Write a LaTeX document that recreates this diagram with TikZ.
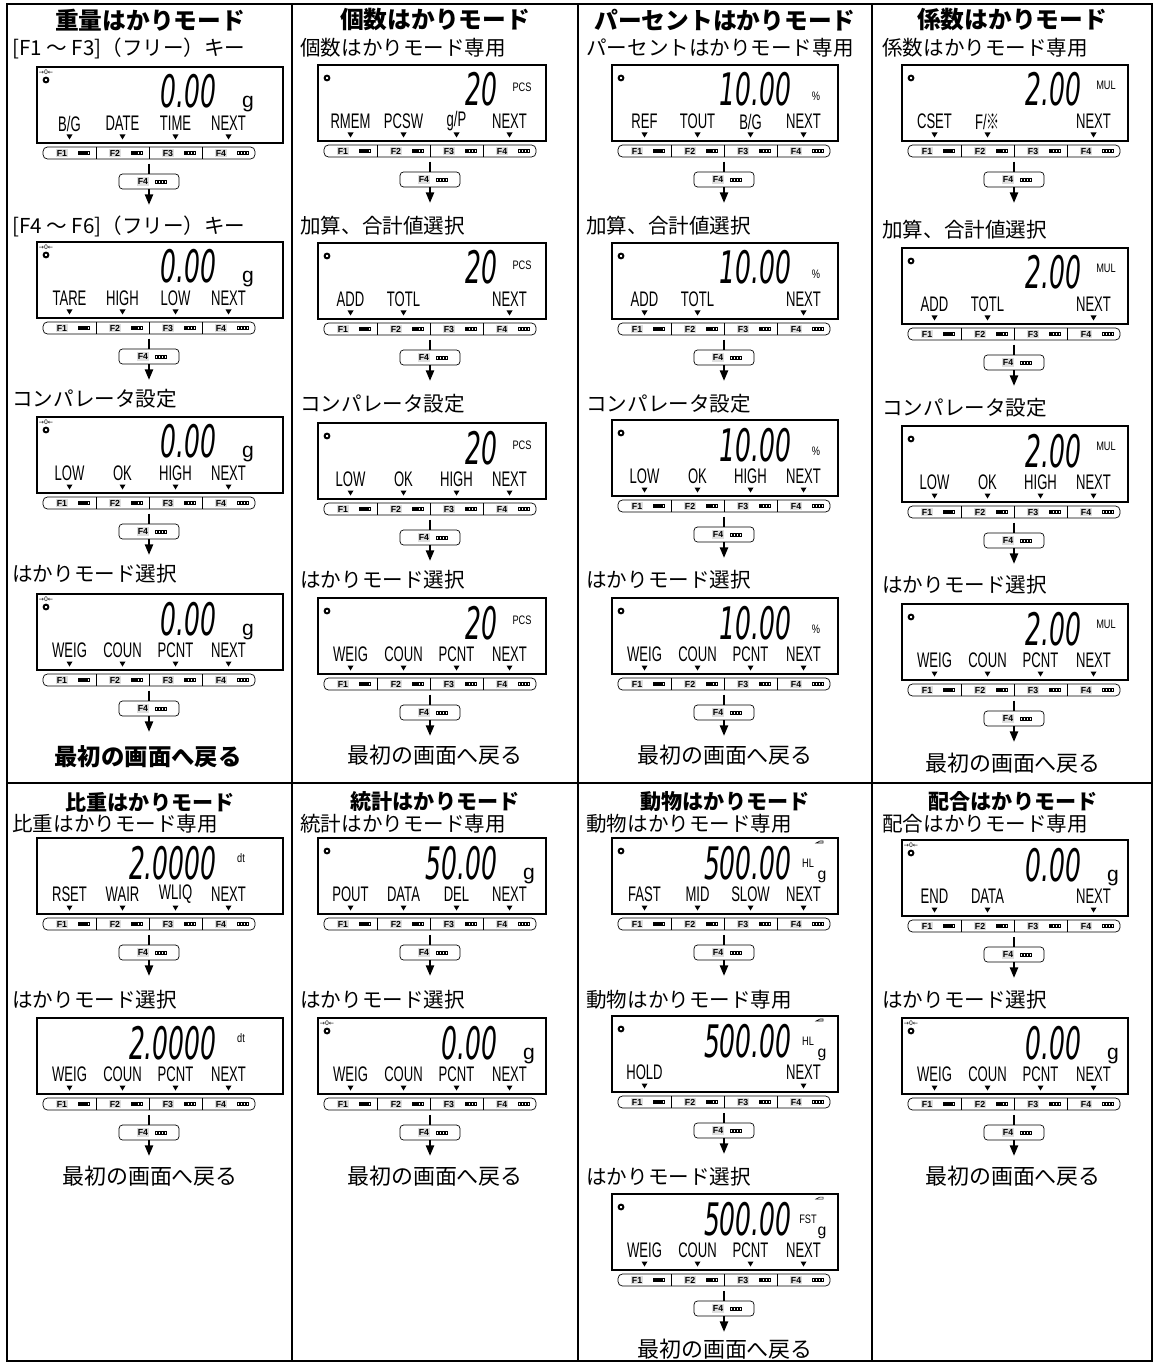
\documentclass[tikz,border=0pt]{standalone}
\usepackage{fontspec}
\setmainfont{Noto Sans CJK JP}
\newfontfamily\lcdfont{Liberation Sans}
\newfontfamily\symfont{DejaVu Sans}
\newfontfamily\cjkfont{Noto Sans CJK JP}
\usetikzlibrary{arrows.meta}

\tikzset{
  grid/.style={line width=0.8pt},
  ttl/.style={font=\fontsize{13.5}{15}\selectfont\bfseries},
  ttlb/.style={font=\fontsize{12}{14}\selectfont\bfseries},
  sub/.style={anchor=west, inner sep=0pt, font=\fontsize{11.7}{13}\selectfont},
  back/.style={font=\fontsize{12.5}{14}\selectfont},
  backbf/.style={font=\fontsize{13.3}{15}\selectfont\bfseries},
  lcdbox/.style={line width=1pt},
  seg/.style={font=\symfont\fontsize{25.5}{26}\selectfont\itshape, xscale=0.56, inner sep=0pt, text depth=0pt, anchor=base east},
  lbl/.style={font=\lcdfont\fontsize{12}{12}\selectfont, xscale=0.62, inner sep=0pt},
  unitbig/.style={font=\lcdfont\fontsize{12}{12}\selectfont, inner sep=0pt, anchor=base},
  unitsm/.style={font=\lcdfont\fontsize{7}{7}\selectfont, xscale=0.75, inner sep=0pt},
  zero/.style={font=\symfont\fontsize{3.5}{3.5}\selectfont, inner sep=0pt},
  keybar/.style={draw, rounded corners=2.5pt, minimum width=4.24cm, minimum height=0.24cm, inner sep=0pt, line width=0.4pt},
  keylab/.style={fill=gray!25, inner sep=0.7pt, font=\lcdfont\fontsize{5}{5}\selectfont\bfseries},
  fkey/.style={draw, rounded corners=2pt, minimum width=1.2cm, minimum height=0.3cm, inner sep=0pt, line width=0.4pt},
  flow/.style={line width=1.3pt},
  >={Triangle[length=6pt,width=4.5pt]},
}

% 表示部+キー+F4+矢印
% #1 名前, #2 左, #3 上, #4 幅, #5 数値, #6 単位, #7 キー表示, #8 0:なし 1:o 2:ゼロ+o
\newcommand{\lcd}[8]{%
  \draw[lcdbox] (#2,#3) rectangle ({#2+#4},{#3+76});
  \ifcase#8\or
    \draw[line width=1.1pt] ({#2+9},{#3+13}) circle[radius=2.4];
  \or
    \node[zero] (#1-z) at ({#2+9},{#3+5}) {→0←};
    \draw[line width=1.1pt] ({#2+9},{#3+13}) circle[radius=2.4];
  \fi
  \node[seg] (#1-d) at ({#2+180},{#3+41}) {#5};
  #6
  \foreach \lab [count=\i] in {#7}{
    \ifx\lab\empty\else
      \node[lbl] (#1-l\i) at ({#2+53*\i-20.5},{#3+56.5}) {\lab};
      \fill ({#2+53*\i-23.5},{#3+67.5}) -- ++(6,0) -- ++(-3,5) -- cycle;
    \fi
  }
  % キー
  \node[keybar] (#1-kb) at ({#2+112},{#3+86}) {};
  \foreach \i in {1,2,3,4}{
    \ifnum\i<4 \draw[line width=0.4pt] ({#2+6+53*\i},{#3+80}) -- ++(0,12); \fi
    \node[keylab] (#1-k\i) at ({#2+53*\i-28},{#3+86}) {F\i};
    \foreach \j in {1,2,3,4}{
      \draw[line width=0.25pt] ({#2+53*\i-15+3*\j},{#3+84.5}) rectangle ++(2.2,3);
      \ifnum\j<\numexpr5-\i\relax
        \fill ({#2+53*\i-15+3*\j},{#3+84.5}) rectangle ++(2.2,3);
      \fi
    }
  }
  % F4
  \node[fkey] (#1-f) at ({#2+112},{#3+114.5}) {};
  \node[keylab] (#1-fk) at ({#2+106},{#3+114.5}) {F4};
  \foreach \j in {1,2,3,4}
    \draw[line width=0.25pt] ({#2+115+3*\j},{#3+113}) rectangle ++(2.2,3);
  \coordinate (#1-t) at ({#2+112},{#3+138});
  \draw[flow, shorten <=2.5pt] (#1-kb) -- (#1-f);
  \draw[flow, ->] (#1-f) -- (#1-t);
}

% 単位
\newcommand{\ug}[1]{\node[unitbig] (#1-u) at ([shift={(31,0)}]#1-d.base east) {g};}
\newcommand{\usm}[3]{\node[unitsm] (#1-u) at ([shift={(24,#3)}]#1-d.base east) {#2};}
\newcommand{\uhl}[2]{%
  \node[unitsm] (#1-u) at ([shift={(16,-16)}]#1-d.base east) {#2};
  \node[unitbig, font=\lcdfont\fontsize{9}{9}\selectfont] (#1-g) at ([shift={(30,0)}]#1-d.base east) {g};
  \draw[line width=0.3pt] ([shift={(24,-36)}]#1-d.base east) -- ++(4,-2) -- ++(3,0) -- ++(0,2) -- cycle;
}

\begin{document}
\begin{tikzpicture}[x=0.02cm, y=-0.02cm]
  \useasboundingbox (0,0) rectangle (1155,1364);

  % 枠
  \draw[grid] (7,4) rectangle (1152,1361);
  \foreach \x in {292,578,872} \draw[grid] (\x,4) -- (\x,1361);
  \draw[grid] (7,783) -- (1152,783);

  % 重量はかりモード
  \node[ttl] (aT) at (150,20) {重量はかりモード};
  \node[sub] (aS1) at (12,48) {[F1 ～ F3]（フリー）キー};
  \lcd{a1}{37}{67}{246}{0.00}{\ug{a1}}{B/G,DATE,TIME,NEXT}{2}
  \node[sub] (aS2) at (12,226) {[F4 ～ F6]（フリー）キー};
  \lcd{a2}{37}{242}{246}{0.00}{\ug{a2}}{TARE,HIGH,LOW,NEXT}{2}
  \node[sub] (aS3) at (12,399) {コンパレータ設定};
  \lcd{a3}{37}{417}{246}{0.00}{\ug{a3}}{LOW,OK,HIGH,NEXT}{2}
  \node[sub] (aS4) at (12,574) {はかりモード選択};
  \lcd{a4}{37}{594}{246}{0.00}{\ug{a4}}{WEIG,COUN,PCNT,NEXT}{2}
  \node[backbf] (aE) at (148,757) {最初の画面へ戻る};

  % 個数はかりモード
  \node[ttl] (bT) at (435,20) {個数はかりモード};
  \node[sub] (bS1) at (300,48) {個数はかりモード専用};
  \lcd{b1}{318}{65}{228}{20}{\usm{b1}{PCS}{-19}}{RMEM,PCSW,g/P,NEXT}{1}
  \node[sub] (bS2) at (300,226) {加算、合計値選択};
  \lcd{b2}{318}{243}{228}{20}{\usm{b2}{PCS}{-19}}{ADD,TOTL,,NEXT}{1}
  \node[sub] (bS3) at (300,404) {コンパレータ設定};
  \lcd{b3}{318}{423}{228}{20}{\usm{b3}{PCS}{-19}}{LOW,OK,HIGH,NEXT}{1}
  \node[sub] (bS4) at (300,580) {はかりモード選択};
  \lcd{b4}{318}{598}{228}{20}{\usm{b4}{PCS}{-19}}{WEIG,COUN,PCNT,NEXT}{1}
  \node[back] (bE) at (435,755) {最初の画面へ戻る};

  % パーセントはかりモード
  \node[ttl] (cT) at (725,20) {パーセントはかりモード};
  \node[sub] (cS1) at (586,48) {パーセントはかりモード専用};
  \lcd{c1}{612}{65}{226}{10.00}{\usm{c1}{\%}{-10}}{REF,TOUT,B/G,NEXT}{1}
  \node[sub] (cS2) at (586,226) {加算、合計値選択};
  \lcd{c2}{612}{243}{226}{10.00}{\usm{c2}{\%}{-10}}{ADD,TOTL,,NEXT}{1}
  \node[sub] (cS3) at (586,404) {コンパレータ設定};
  \lcd{c3}{612}{420}{226}{10.00}{\usm{c3}{\%}{-10}}{LOW,OK,HIGH,NEXT}{1}
  \node[sub] (cS4) at (586,580) {はかりモード選択};
  \lcd{c4}{612}{598}{226}{10.00}{\usm{c4}{\%}{-10}}{WEIG,COUN,PCNT,NEXT}{1}
  \node[back] (cE) at (725,755) {最初の画面へ戻る};

  % 係数はかりモード
  \node[ttl] (dT) at (1012,20) {係数はかりモード};
  \node[sub] (dS1) at (882,48) {係数はかりモード専用};
  \lcd{d1}{902}{65}{226}{2.00}{\usm{d1}{MUL}{-21}}{CSET,F/{\cjkfont ※},,NEXT}{1}
  \node[sub] (dS2) at (882,230) {加算、合計値選択};
  \lcd{d2}{902}{248}{226}{2.00}{\usm{d2}{MUL}{-21}}{ADD,TOTL,,NEXT}{1}
  \node[sub] (dS3) at (882,408) {コンパレータ設定};
  \lcd{d3}{902}{426}{226}{2.00}{\usm{d3}{MUL}{-21}}{LOW,OK,HIGH,NEXT}{1}
  \node[sub] (dS4) at (882,585) {はかりモード選択};
  \lcd{d4}{902}{604}{226}{2.00}{\usm{d4}{MUL}{-21}}{WEIG,COUN,PCNT,NEXT}{1}
  \node[back] (dE) at (1013,763) {最初の画面へ戻る};

  % 比重はかりモード
  \node[ttlb] (eT) at (150,802) {比重はかりモード};
  \node[sub] (eS1) at (12,824) {比重はかりモード専用};
  \lcd{e1}{37}{838}{246}{2.0000}{\usm{e1}{dt}{-21}}{RSET,WAIR,WLIQ,NEXT}{0}
  \node[sub] (eS2) at (12,1000) {はかりモード選択};
  \lcd{e2}{37}{1018}{246}{2.0000}{\usm{e2}{dt}{-21}}{WEIG,COUN,PCNT,NEXT}{0}
  \node[back] (eE) at (150,1176) {最初の画面へ戻る};

  % 統計はかりモード
  \node[ttlb] (fT) at (435,802) {統計はかりモード};
  \node[sub] (fS1) at (300,824) {統計はかりモード専用};
  \lcd{f1}{318}{838}{228}{50.00}{\ug{f1}}{POUT,DATA,DEL,NEXT}{1}
  \node[sub] (fS2) at (300,1000) {はかりモード選択};
  \lcd{f2}{318}{1018}{228}{0.00}{\ug{f2}}{WEIG,COUN,PCNT,NEXT}{2}
  \node[back] (fE) at (435,1176) {最初の画面へ戻る};

  % 動物はかりモード
  \node[ttlb] (gT) at (725,802) {動物はかりモード};
  \node[sub] (gS1) at (586,824) {動物はかりモード専用};
  \lcd{g1}{612}{838}{226}{500.00}{\uhl{g1}{HL}}{FAST,MID,SLOW,NEXT}{1}
  \node[sub] (gS2) at (586,1000) {動物はかりモード専用};
  \lcd{g2}{612}{1016}{226}{500.00}{\uhl{g2}{HL}}{HOLD,,,NEXT}{1}
  \node[sub] (gS3) at (586,1177) {はかりモード選択};
  \lcd{g3}{612}{1194}{226}{500.00}{\uhl{g3}{FST}}{WEIG,COUN,PCNT,NEXT}{1}
  \node[back] (gE) at (725,1349) {最初の画面へ戻る};

  % 配合はかりモード
  \node[ttlb] (hT) at (1013,802) {配合はかりモード};
  \node[sub] (hS1) at (882,824) {配合はかりモード専用};
  \lcd{h1}{902}{840}{226}{0.00}{\ug{h1}}{END,DATA,,NEXT}{2}
  \node[sub] (hS2) at (882,1000) {はかりモード選択};
  \lcd{h2}{902}{1018}{226}{0.00}{\ug{h2}}{WEIG,COUN,PCNT,NEXT}{2}
  \node[back] (hE) at (1013,1176) {最初の画面へ戻る};
\end{tikzpicture}
\end{document}
